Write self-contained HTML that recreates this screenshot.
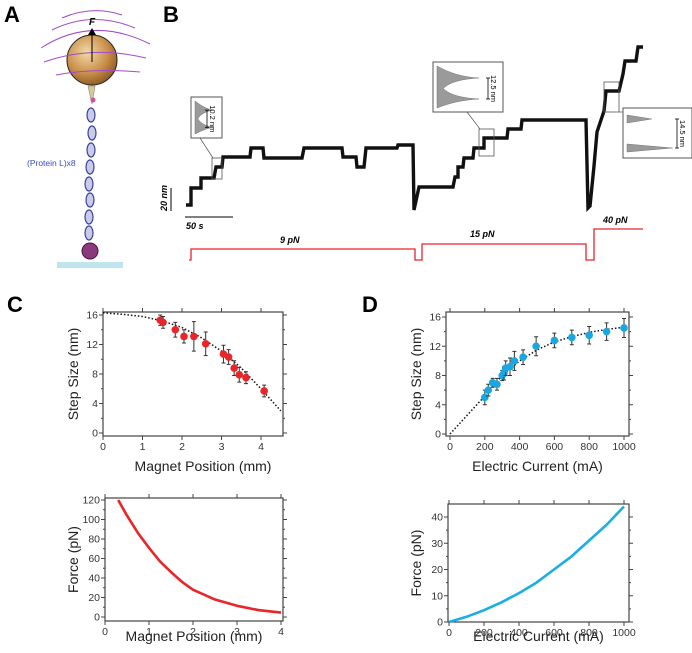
<!DOCTYPE html>
<html><head><meta charset="utf-8"><style>
html,body{margin:0;padding:0;background:#fff;}
svg{display:block;font-family:"Liberation Sans",Arial,sans-serif;}
</style></head><body>
<svg id="fig" width="692" height="653" viewBox="0 0 692 653">
<defs>
<radialGradient id="bead" cx="40%" cy="35%" r="70%">
<stop offset="0" stop-color="#f3d9a8"/><stop offset="0.6" stop-color="#c98f4a"/><stop offset="1" stop-color="#8a5520"/>
</radialGradient>
</defs>
<text x="4" y="22" font-size="22" font-weight="bold">A</text>
<text x="163" y="22" font-size="22" font-weight="bold">B</text>
<text x="7" y="312" font-size="22" font-weight="bold">C</text>
<text x="362" y="312" font-size="22" font-weight="bold">D</text>

<g>
<rect x="57" y="262" width="66" height="6" fill="#bfe6ef"/>
<circle cx="92" cy="60" r="25" fill="url(#bead)" stroke="#222" stroke-width="1"/>
<g fill="none" stroke="#a04dc8" stroke-width="1">
<path d="M41 48 Q92 15 150 44"/>
<path d="M52 30 Q92 10 135 28"/>
<path d="M62 18 Q92 5 122 15"/>
<path d="M44 62 Q92 45 146 58"/>
<path d="M56 75 Q92 68 140 72"/>
</g>
<line x1="92" y1="62" x2="92" y2="33" stroke="#000" stroke-width="1"/>
<polygon points="88,35 96,35 92,28" fill="#000"/>
<text x="89" y="25" font-size="10" font-style="italic" font-weight="bold">F</text>
<path d="M88 86 L95 86 L92 104 Z" fill="#d8c8a0" stroke="#886" stroke-width="0.6"/>
<circle cx="93" cy="100" r="2.5" fill="#d050a0"/>
<g fill="#c8cce8" stroke="#3a3f9a" stroke-width="1.2">
<ellipse cx="91" cy="115" rx="4" ry="7"/><ellipse cx="92" cy="133" rx="4" ry="7"/>
<ellipse cx="91" cy="150" rx="4" ry="7"/><ellipse cx="90" cy="167" rx="4" ry="7"/>
<ellipse cx="89" cy="184" rx="4" ry="7"/><ellipse cx="90" cy="200" rx="4" ry="7"/>
<ellipse cx="89" cy="217" rx="4" ry="7"/><ellipse cx="89" cy="233" rx="4" ry="7"/>
</g>
<circle cx="90" cy="251" r="8" fill="#8a3a7a" stroke="#501040" stroke-width="1"/>
<text x="27" y="166" font-size="8.5" fill="#3b4cc0">(Protein L)x8</text>
</g>

<g id="panelB"></g>
<g id="charts"></g>
</svg>
<script>
var traceX = [186,191,191,201,201,214,216,222,223,250,251,263,264,302,304,342,343,356,357,364,366,397,398,413,414,419,453,455,458,458,463,464,473,474,484,484,507,508,521,522,586,588,590,594,597,601,604,606,619,623,625,636,638,643];
var traceY = [205,205,188,188,178,178,167,167,157,157,148,148,158,158,148,148,157,157,167,167,148,148,145,145,210,187,187,177,177,167,167,158,158,148,148,138,138,129,129,120,120,208,206,166,132,120,111,91,91,74,61,61,47,47];
var forceX = [189,191,191,415,415,422,422,586,586,594,594,643];
var forceY = [260,260,249,249,260,260,244,244,260,260,229,229];
var forceLabels = ["9 pN","15 pN","40 pN"];

var cPos = [1.45,1.52,1.83,2.05,2.3,2.6,3.05,3.18,3.32,3.45,3.62,4.08];
var cStep = [15.3,15.0,14.0,13.1,13.1,12.1,10.7,10.3,8.8,7.9,7.5,5.7];
var cErr = [0.7,0.8,1.0,0.9,2.0,1.6,1.2,1.0,1.0,1.0,0.8,0.8];
var cFitX = [0,0.5,1,1.5,2,2.5,3,3.5,4,4.5];
var cFitY = [16.3,16.1,15.8,15.2,14.3,12.9,11.1,8.8,6.0,3.0];
var cForceX = [0.3,0.5,0.75,1,1.25,1.5,1.75,2,2.5,3,3.5,4];
var cForceY = [120,104,86,71,57,46,36,28,18,11.5,7,4.5];

var dCur = [200,220,245,270,300,310,320,345,370,420,495,600,700,800,900,1000];
var dStep = [5.0,6.0,7.0,6.8,8.0,8.3,9.0,9.2,10.0,10.5,12.0,12.8,13.2,13.5,14.0,14.5];
var dErr = [1.0,0.8,0.6,0.8,0.7,0.9,1.0,1.2,1.3,1.0,1.3,1.0,1.0,1.2,1.2,1.3];
var dFitX = [0,100,200,300,400,500,600,700,800,900,1000];
var dFitY = [0,2.6,5.2,8.0,10.0,11.5,12.6,13.3,13.9,14.3,14.6];
var dForceX = [0,100,200,300,400,500,600,700,800,900,1000];
var dForceY = [0,2,4.5,7.5,11,15,20,25,31,37,44];

var cStepTicks = [0,4,8,12,16];
var cPosTicks = [0,1,2,3,4];
var cForceTicks = [0,20,40,60,80,100,120];
var dStepTicks = [0,4,8,12,16];
var dCurTicks = [0,200,400,600,800,1000];
var dForceTicks = [0,10,20,30,40];

var NS = "http://www.w3.org/2000/svg";
function mk(tag, attrs, parent){var e=document.createElementNS(NS,tag);for(var k in attrs)e.setAttribute(k,attrs[k]);parent.appendChild(e);return e;}

(function(){
  var g = document.getElementById('panelB');
  var pts = traceX.map(function(x,i){return x+','+traceY[i];}).join(' ');
  var tr = mk('polyline',{points:pts,fill:'none',stroke:'#111','stroke-width':3.4},g);
  
  
  var fp = forceX.map(function(x,i){return x+','+forceY[i];}).join(' ');
  var fl = mk('polyline',{points:fp,fill:'none',stroke:'#e8242a','stroke-width':1.3},g);
  
  
  var lp = [[280,243],[470,237],[603,223]];
  forceLabels.forEach(function(t,i){
    var e = mk('text',{x:lp[i][0],y:lp[i][1],'font-size':9,'font-style':'italic','font-weight':'bold'},g);
    e.textContent=t;
    
    
  });
  var sb = mk('line',{x1:185,y1:217,x2:233,y2:217,stroke:'#000','stroke-width':1},g);
  
  
  var st = mk('text',{x:186,y:229,'font-size':9,'font-style':'italic','font-weight':'bold'},g);
  st.textContent='50 s';
  
  
  var vb = mk('line',{x1:171,y1:188,x2:171,y2:211,stroke:'#000','stroke-width':1},g);
  
  
  var vt = mk('text',{x:0,y:0,'font-size':9,'font-style':'italic','font-weight':'bold',transform:'translate(167,211) rotate(-90)'},g);
  vt.textContent='20 nm';
  
  
  var insets = [
    {b:[191,97,31,41], s:[212,158,10,21], l:[200,138,213,158], t:'10.2 nm', two:true},
    {b:[433,62,70,50], s:[479,129,15,27], l:[467,112,480,129], t:'12.5 nm', two:true},
    {b:[623,108,69,50], s:[604,82,15,30], l:[619,112,623,112], t:'14.5 nm', two:false}
  ];
  insets.forEach(function(o){
    var b=o.b;
    var r=mk('rect',{x:b[0],y:b[1],width:b[2],height:b[3],fill:'#fff',stroke:'#555','stroke-width':1},g);
    
    
    var sr=mk('rect',{x:o.s[0],y:o.s[1],width:o.s[2],height:o.s[3],fill:'none',stroke:'#555','stroke-width':0.8},g);
    
    
    mk('line',{x1:o.l[0],y1:o.l[1],x2:o.l[2],y2:o.l[3],stroke:'#555','stroke-width':0.7},g);
    var x0=b[0]+4, w=b[2]*0.6, y0=b[1]+4, h=b[3]-8;
    var p1=b[1]+b[3]*0.32, p2=b[1]+b[3]*0.74;
    var d;
    if(o.two){
      var m=(p1+p2)/2;
      d='M'+x0+' '+y0+' L'+x0+' '+(y0+h)+' C'+(x0+w*0.3)+' '+(p2+4)+' '+(x0+w*0.6)+' '+(p2+1)+' '+(x0+w)+' '+p2+' C'+(x0+w*0.6)+' '+(p2-1)+' '+(x0+w*0.3)+' '+(p2-4)+' '+(x0+w*0.15)+' '+m+' C'+(x0+w*0.3)+' '+(p1+4)+' '+(x0+w*0.6)+' '+(p1+1)+' '+(x0+w)+' '+p1+' C'+(x0+w*0.6)+' '+(p1-1)+' '+(x0+w*0.3)+' '+(p1-5)+' '+x0+' '+y0+' Z';
    } else {
      p1=b[1]+b[3]*0.22; p2=b[1]+b[3]*0.8;
      d='M'+x0+' '+(p1-4)+' L'+x0+' '+(p1+4)+' L'+(x0+w*0.6)+' '+p1+' Z M'+x0+' '+(p2-4)+' L'+x0+' '+(p2+4)+' L'+(x0+w*1.1)+' '+p2+' Z';
    }
    var hp=mk('path',{d:d,fill:'#9a9a9a',stroke:'#777','stroke-width':0.5},g);
    
    
    var bx=b[0]+b[2]-15;
    mk('line',{x1:bx,y1:p1,x2:bx,y2:p2,stroke:'#000','stroke-width':0.8},g);
    mk('line',{x1:bx-2,y1:p1,x2:bx+2,y2:p1,stroke:'#000','stroke-width':0.8},g);
    mk('line',{x1:bx-2,y1:p2,x2:bx+2,y2:p2,stroke:'#000','stroke-width':0.8},g);
    var tt=mk('text',{x:0,y:0,'font-size':7.5,'text-anchor':'middle',transform:'translate('+(bx+3)+','+((p1+p2)/2)+') rotate(90)'},g);
    tt.textContent=o.t;
    
    
  });
})();

function chart(cfg){
  var root=document.getElementById('charts');
  var g=mk('g',{},root);
  
  
  var sx=function(v){return cfg.px0+(v-cfg.x0)/(cfg.x1-cfg.x0)*(cfg.px1-cfg.px0);};
  var sy=function(v){return cfg.py0+(v-cfg.y0)/(cfg.y1-cfg.y0)*(cfg.py1-cfg.py0);};
  var B=cfg.box;
  var fr=mk('rect',{x:B[0],y:B[1],width:B[2]-B[0],height:B[3]-B[1],fill:'none',stroke:'#444','stroke-width':1.2},g);
  
  
  cfg.xt.forEach(function(v){
    var x=sx(v);
    mk('line',{x1:x,y1:B[3],x2:x,y2:B[3]+4,stroke:'#444','stroke-width':1},g);
    mk('line',{x1:x,y1:B[1],x2:x,y2:B[1]-4,stroke:'#444','stroke-width':1},g);
    var t=mk('text',{x:x,y:B[3]+14,'font-size':10.5,'text-anchor':'middle',fill:'#333'},g);
    t.textContent=v;
    
    
  });
  cfg.yt.forEach(function(v,i){
    var y=sy(v);
    mk('line',{x1:B[0],y1:y,x2:B[0]-4,y2:y,stroke:'#444','stroke-width':1},g);
    mk('line',{x1:B[2],y1:y,x2:B[2]+4,y2:y,stroke:'#444','stroke-width':1},g);
    if(i<cfg.yt.length-1){var ym=sy((v+cfg.yt[i+1])/2);
      mk('line',{x1:B[0],y1:ym,x2:B[0]-2,y2:ym,stroke:'#444','stroke-width':1},g);
      mk('line',{x1:B[2],y1:ym,x2:B[2]+2,y2:ym,stroke:'#444','stroke-width':1},g);}
    var t=mk('text',{x:B[0]-5,y:y+3.5,'font-size':10.5,'text-anchor':'end',fill:'#333'},g);
    t.textContent=v;
    
    
  });
  var xl=mk('text',{x:(B[0]+B[2])/2+cfg.xlOff,y:cfg.xlY,'font-size':14,'text-anchor':'middle',fill:'#222'},g);
  xl.textContent=cfg.xl;
  
  
  var yl=mk('text',{x:0,y:0,'font-size':14,'text-anchor':'middle',fill:'#222',transform:'translate('+cfg.ylX+','+(B[1]+B[3])/2+') rotate(-90)'},g);
  yl.textContent=cfg.yl;
  
  
  if(cfg.lineX){
    var p=cfg.lineX.map(function(v,i){return sx(v).toFixed(1)+','+sy(cfg.lineY[i]).toFixed(1);}).join(' ');
    var l=mk('polyline',{points:p,fill:'none',stroke:cfg.lineColor,'stroke-width':cfg.lineW,'stroke-dasharray':cfg.dash||'none','stroke-linejoin':'round'},g);
    
    
  }
  if(cfg.ptX){
    cfg.ptX.forEach(function(v,i){
      var x=sx(v), y=sy(cfg.ptY[i]), e=cfg.ptE[i];
      var eb=mk('path',{d:'M'+x+' '+sy(cfg.ptY[i]-e)+' L'+x+' '+sy(cfg.ptY[i]+e)+' M'+(x-2)+' '+sy(cfg.ptY[i]-e)+' L'+(x+2)+' '+sy(cfg.ptY[i]-e)+' M'+(x-2)+' '+sy(cfg.ptY[i]+e)+' L'+(x+2)+' '+sy(cfg.ptY[i]+e),stroke:'#333','stroke-width':1,fill:'none'},g);
      
      
      var c=mk('circle',{cx:x,cy:y,r:3.8,fill:cfg.ptColor},g);
      
      
    });
  }
}

chart({name:'chart-c-step-size',box:[103,312,283,436],x0:0,x1:4,px0:103,px1:261,y0:0,y1:16,py0:433,py1:315,
  xt:cPosTicks,yt:cStepTicks,xl:'Magnet Position (mm)',xlY:471,xlOff:10,yl:'Step Size (nm)',ylX:78,
  lineX:cFitX,lineY:cFitY,lineColor:'#111',lineW:1.5,dash:'1.5 2',lineName:'fit-curve',
  ptX:cPos,ptY:cStep,ptE:cErr,ptColor:'#e8262a'});
chart({name:'chart-c-force',box:[105,498,283,621],x0:0,x1:4,px0:105,px1:281,y0:0,y1:120,py0:617,py1:500,
  xt:cPosTicks,yt:cForceTicks,xl:'Magnet Position (mm)',xlY:641,xlOff:0,yl:'Force (pN)',ylX:78,
  lineX:cForceX,lineY:cForceY,lineColor:'#e8262a',lineW:2.6,lineName:'force-curve'});
chart({name:'chart-d-step-size',box:[446,312,629,436],x0:0,x1:1000,px0:450,px1:624,y0:0,y1:16,py0:434,py1:317,
  xt:dCurTicks,yt:dStepTicks,xl:'Electric Current (mA)',xlY:471,xlOff:0,yl:'Step Size (nm)',ylX:421,
  lineX:dFitX,lineY:dFitY,lineColor:'#111',lineW:1.5,dash:'1.5 2',lineName:'fit-curve',
  ptX:dCur,ptY:dStep,ptE:dErr,ptColor:'#1aa6e0'});
chart({name:'chart-d-force',box:[448,504,629,622],x0:0,x1:1000,px0:449,px1:624,y0:0,y1:40,py0:622,py1:517,
  xt:dCurTicks,yt:dForceTicks,xl:'Electric Current (mA)',xlY:641,xlOff:0,yl:'Force (pN)',ylX:421,
  lineX:dForceX,lineY:dForceY,lineColor:'#1aaee8',lineW:2.6,lineName:'force-curve'});
</script>
</body></html>
